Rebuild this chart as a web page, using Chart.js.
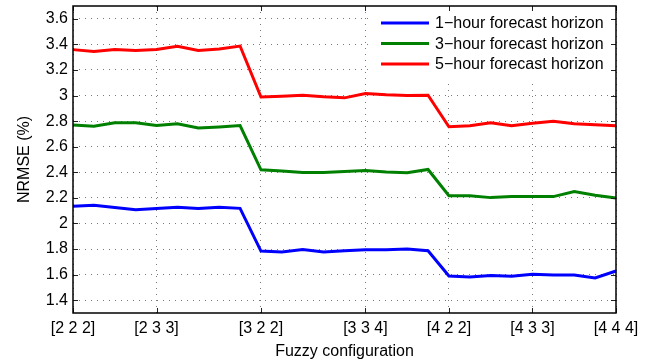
<!DOCTYPE html>
<html>
<head>
<meta charset="utf-8">
<script src="https://cdn.jsdelivr.net/npm/chart.js@4"></script>
<style>
  html, body { margin: 0; padding: 0; background: #fff; }
  #wrap { width: 657px; height: 363px; }
</style>
</head>
<body>
<div id="wrap"><canvas id="nrmse_chart" width="657" height="363"></canvas></div>
<script>
// fuzzy configurations (x categories)
const configs = [
  '[2 2 2]', '[2 2 3]', '[2 2 4]', '[2 3 2]', '[2 3 3]', '[2 3 4]', '[2 4 2]', '[2 4 3]', '[2 4 4]',
  '[3 2 2]', '[3 2 3]', '[3 2 4]', '[3 3 2]', '[3 3 3]', '[3 3 4]', '[3 4 2]', '[3 4 3]', '[3 4 4]',
  '[4 2 2]', '[4 2 3]', '[4 2 4]', '[4 3 2]', '[4 3 3]', '[4 3 4]', '[4 4 2]', '[4 4 3]', '[4 4 4]',
];
// only these get a tick label / grid line
const shownTicks = ['[2 2 2]', '[2 3 3]', '[3 2 2]', '[3 3 4]', '[4 2 2]', '[4 3 3]', '[4 4 4]'];
const yTicks = [1.4, 1.6, 1.8, 2, 2.2, 2.4, 2.6, 2.8, 3, 3.2, 3.4, 3.6];

const oneHour = [2.134, 2.142, 2.124, 2.108, 2.116, 2.126, 2.116, 2.126, 2.118,
  1.784, 1.776, 1.797, 1.776, 1.786, 1.795, 1.795, 1.8, 1.787,
  1.589, 1.581, 1.594, 1.587, 1.602, 1.597, 1.597, 1.574, 1.628];
const threeHour = [2.77, 2.76, 2.788, 2.788, 2.765, 2.78, 2.746, 2.755, 2.765,
  2.419, 2.411, 2.398, 2.398, 2.406, 2.414, 2.403, 2.396, 2.422,
  2.217, 2.217, 2.202, 2.21, 2.21, 2.21, 2.25, 2.22, 2.199];
const fiveHour = [3.359, 3.345, 3.36, 3.353, 3.36, 3.385, 3.353, 3.363, 3.387,
  2.988, 2.995, 3.003, 2.99, 2.982, 3.016, 3.006, 3.0, 3.003,
  2.756, 2.764, 2.787, 2.764, 2.783, 2.798, 2.78, 2.772, 2.764];

const FONT = { family: '"Liberation Sans", Arial, Helvetica, sans-serif', size: 16 };
const GRID = '#7a7a7a';

// matlab-like box, inner ticks and legend inside the axes
const frame = {
  id: 'frame',
  afterDraw(chart) {
    const { ctx, chartArea: a, scales: { x, y } } = chart;
    ctx.save();

    // legend
    ctx.fillStyle = '#fff';
    ctx.fillRect(a.right - 246, a.top, 246, 73);
    ctx.font = `${FONT.size}px ${FONT.family}`;
    ctx.textBaseline = 'middle';
    chart.data.datasets.forEach((ds, i) => {
      const ly = a.top + 17 + i * 20.5;
      ctx.strokeStyle = ds.borderColor;
      ctx.lineWidth = 3;
      ctx.beginPath();
      ctx.moveTo(a.right - 235, ly);
      ctx.lineTo(a.right - 187, ly);
      ctx.stroke();
      ctx.fillStyle = '#000';
      ctx.fillText(ds.label, a.right - 181, ly + 1);
    });

    // inner ticks
    ctx.strokeStyle = '#222';
    ctx.lineWidth = 1;
    ctx.beginPath();
    y.ticks.forEach(t => {
      const py = Math.round(y.getPixelForValue(t.value)) + 0.5;
      ctx.moveTo(a.left, py); ctx.lineTo(a.left + 5, py);
      ctx.moveTo(a.right, py); ctx.lineTo(a.right - 5, py);
    });
    configs.forEach((c, i) => {
      if (!shownTicks.includes(c)) return;
      const px = Math.round(x.getPixelForValue(i)) + 0.5;
      ctx.moveTo(px, a.bottom); ctx.lineTo(px, a.bottom - 5);
      ctx.moveTo(px, a.top); ctx.lineTo(px, a.top + 5);
    });
    ctx.stroke();

    // box
    ctx.strokeStyle = '#000';
    ctx.lineWidth = 1.5;
    ctx.strokeRect(a.left, a.top, a.right - a.left, a.bottom - a.top);
    ctx.restore();
  },
};

const line = (label, data, color) => ({
  label,
  data,
  borderColor: color,
  backgroundColor: color,
  borderWidth: 3,
  pointRadius: 0,
  tension: 0,
  fill: false,
});

new Chart(document.getElementById('nrmse_chart'), {
  type: 'line',
  data: {
    labels: configs,
    datasets: [
      line('1\u2212hour forecast horizon', oneHour, '#0000ff'),
      line('3\u2212hour forecast horizon', threeHour, '#008000'),
      line('5\u2212hour forecast horizon', fiveHour, '#ff0000'),
    ],
  },
  options: {
    responsive: false,
    animation: false,
    devicePixelRatio: 1,
    layout: { padding: { top: 6, right: 41, bottom: 0, left: 0 } },
    plugins: { legend: { display: false }, tooltip: { enabled: false } },
    scales: {
      x: {
        type: 'category',
        offset: false,
        border: { display: false, dash: [1, 5] },
        grid: {
          drawTicks: false,
          color: c => (shownTicks.includes(configs[c.index]) ? GRID : 'rgba(0,0,0,0)'),
        },
        ticks: {
          autoSkip: false,
          maxRotation: 0,
          minRotation: 0,
          padding: 6,
          color: '#000',
          font: FONT,
          callback: (v, i) => (shownTicks.includes(configs[i]) ? configs[i] : ''),
        },
        title: { display: true, text: 'Fuzzy configuration', color: '#000', font: FONT, padding: { top: 0, bottom: 2 } },
        afterFit: s => {
          s.height = 50;
          s.paddingLeft = 0; s.paddingRight = 0;
        },
      },
      y: {
        min: 1.3,
        max: 3.7,
        border: { display: false, dash: [1, 5] },
        grid: { drawTicks: false, color: GRID },
        afterBuildTicks: s => { s.ticks = yTicks.map(v => ({ value: v })); },
        ticks: {
          padding: 5,
          color: '#000',
          font: FONT,
          callback: v => String(Math.round(v * 10) / 10),
        },
        title: { display: true, text: 'NRMSE (%)', color: '#000', font: FONT, padding: { top: 15, bottom: 0 } },
        afterFit: s => {
          s.width = 73;
          s.paddingTop = 0; s.paddingBottom = 0;
        },
      },
    },
  },
  plugins: [frame],
});
</script>
</body>
</html>
